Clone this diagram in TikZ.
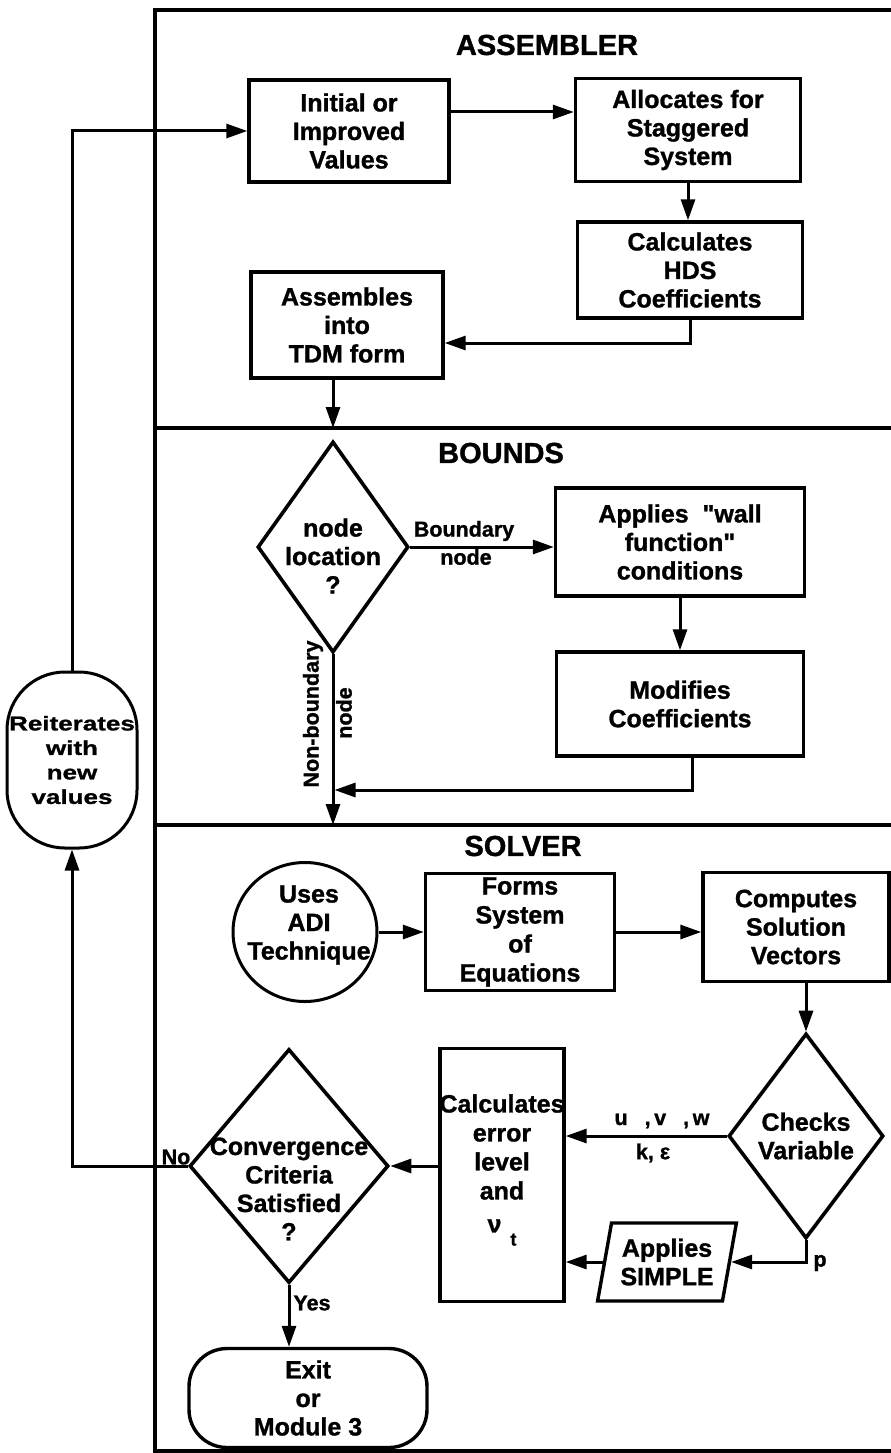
\documentclass[tikz,border=0pt]{standalone}
\usepackage{fontspec}
\newfontfamily\hv{Liberation Sans}[BoldFeatures={FakeBold=1.2}]
\newfontfamily\widesans{Liberation Sans}[FakeStretch=1.3, BoldFeatures={FakeBold=1.2}]
\usetikzlibrary{arrows.meta,shapes.geometric}

\begin{document}
\begin{tikzpicture}[x=1pt,y=-1pt,
  txt/.style={font=\hv\fontsize{25}{28.5}\selectfont\bfseries, align=center, inner sep=0pt},
  small/.style={font=\hv\fontsize{21.5}{24}\selectfont\bfseries, inner sep=0pt},
  title/.style={font=\hv\fontsize{29}{32}\selectfont\bfseries, inner sep=0pt},
  proc/.style={draw, line width=3.4pt, txt, inner sep=0pt},
  decision/.style={draw, diamond, line width=3.6pt, inner sep=0pt},
  arr/.style={line width=3pt, -{Triangle[length=21pt,width=14pt]}},
  frame/.style={line width=3.4pt}
]
\useasboundingbox (0,0) rectangle (891,1453);
\fill[white] (0,0) rectangle (891,1453);

% module frame and section dividers
\coordinate (div1) at (155,428);
\coordinate (div2) at (155,825);
\draw[frame] (891,10) -- (155,10) -- (155,1453);
\draw[frame] (155,1451) -- (891,1451);
\draw[frame] (div1) -- (891,428);
\draw[frame] (div2) -- (891,825);

% section titles
\node[title] (tAsm) at (547,45) {ASSEMBLER};
\node[title] (tBnd) at (501,453) {BOUNDS};
\node[title] (tSol) at (523,846) {SOLVER};

% ASSEMBLER
\node[proc, minimum width=200pt, minimum height=102pt] (init) at (349,131) {Initial or\\Improved\\Values};
\node[proc, minimum width=225pt, minimum height=103pt] (alloc) at (688,130) {Allocates for\\Staggered\\System};
\node[proc, minimum width=225pt, minimum height=96pt] (calc) at (690,270) {Calculates\\HDS\\Coefficients};
\node[proc, minimum width=192pt, minimum height=106pt] (assemb) at (347,325) {Assembles\\into\\TDM form};

% BOUNDS
\node[decision, minimum width=151pt, minimum height=211pt] (loc) at (333,547) {};
\node[txt] (locT) at (333,556) {node\\location\\?};
\node[proc, minimum width=249pt, minimum height=108pt] (wall) at (680,542) {Applies\ \ "wall\\function"\\conditions};
\node[proc, minimum width=247pt, minimum height=104pt] (modif) at (680,704) {Modifies\\Coefficients};

% SOLVER
\node[draw, ellipse, line width=3pt, minimum width=144pt, minimum height=139pt, inner sep=0pt] (adi) at (305,932) {};
\node[txt] (adiT) at (309,925) {Uses\\ADI\\Technique};
\node[proc, minimum width=189pt, minimum height=117pt, font=\hv\fontsize{25}{29}\selectfont\bfseries] (forms) at (520,932) {Forms\\System\\of\\Equations};
\node[proc, minimum width=186pt, minimum height=109pt] (comp) at (796,927) {Computes\\Solution\\Vectors};
\node[decision, minimum width=155pt, minimum height=205pt] (checks) at (806,1136) {};
\node[txt] (checksT) at (806,1136) {Checks\\Variable};
\node[proc, minimum width=124pt, minimum height=253pt] (calcerr) at (502,1175) {};
\node[txt, font=\hv\fontsize{25}{29}\selectfont\bfseries] (calcerrT) at (502,1170)
  {Calculates\\error\\level\\and\\[4pt]ν\hspace{9pt}\raisebox{-13pt}{\fontsize{18}{18}\selectfont t}};
\node[draw, trapezium, trapezium left angle=76, trapezium right angle=104,
      trapezium stretches=true, line width=3.4pt, minimum width=139pt,
      minimum height=78pt, txt] (simple) at (667,1262) {Applies\\SIMPLE};
\node[decision, minimum width=199pt, minimum height=234pt] (conv) at (289,1166) {};
\node[txt] (convT) at (289,1189) {Convergence\\Criteria\\Satisfied\\?};
\node[draw, rounded corners=38pt, line width=3.4pt, minimum width=238pt, minimum height=99pt, txt] (exit) at (308,1398) {Exit\\or\\Module 3};
\node[draw, rounded corners=58pt, line width=3pt, minimum width=130pt, minimum height=176pt,
      inner sep=0pt, align=center, font=\widesans\fontsize{20}{24.5}\selectfont\bfseries] (reiter) at (72,760)
  {Reiterates\\with\\new\\values};

% connectors
\draw[arr] (reiter.north) |- (init.west);
\draw[arr] (init.east |- 0,112) -- (alloc.west |- 0,112);
\draw[arr] (alloc.south) -- (alloc.south |- calc.north);
\draw[arr] (calc.south) |- (assemb.east |- 0,343);
\draw[arr] (loc.north |- assemb.south) -- (loc.north |- div1);
\draw[arr] (loc.east) -- (wall.west |- loc.east);
\draw[arr] (wall.south) -- (wall.south |- modif.north);
\draw[arr] ([xshift=12pt]modif.south) |- ([xshift=1.5pt]loc.south |- 0,790);
\draw[arr] (loc.south) -- (loc.south |- div2);
\draw[arr] (adi.east) -- (forms.west |- adi.east);
\draw[arr] (forms.east) -- (comp.west |- forms.east);
\draw[arr] (checks.north |- comp.south) -- (checks.north);
\draw[arr] (checks.west) -- (calcerr.east |- checks.west);
\draw[arr] (checks.south) |- (simple.east);
\draw[arr] (simple.west) -- (calcerr.east |- simple.west);
\draw[arr] (calcerr.west |- conv.east) -- (conv.east);
\draw[arr] (conv.west) -| (reiter.south);
\draw[arr] (conv.south) -- (conv.south |- exit.north);

% connector labels
\node[small] (lBnd) at (464,531) {Boundary};
\node[small] (lBndN) at (466,557) {node};
\node[small, rotate=90] (lNon) at (313,714) {Non-boundary};
\node[small, rotate=90] (lNonN) at (344,713) {node};
\node[small] (lUvw) at (662,1121) {u\hspace{17pt},\,v\hspace{17pt},\,w};
\node[small] (lKe) at (653,1153) {k, ε};
\node[small] (lP) at (820,1263) {p};
\node[small] (lNo) at (176,1157) {No};
\node[small] (lYes) at (312,1303) {Yes};
\end{tikzpicture}
\end{document}
